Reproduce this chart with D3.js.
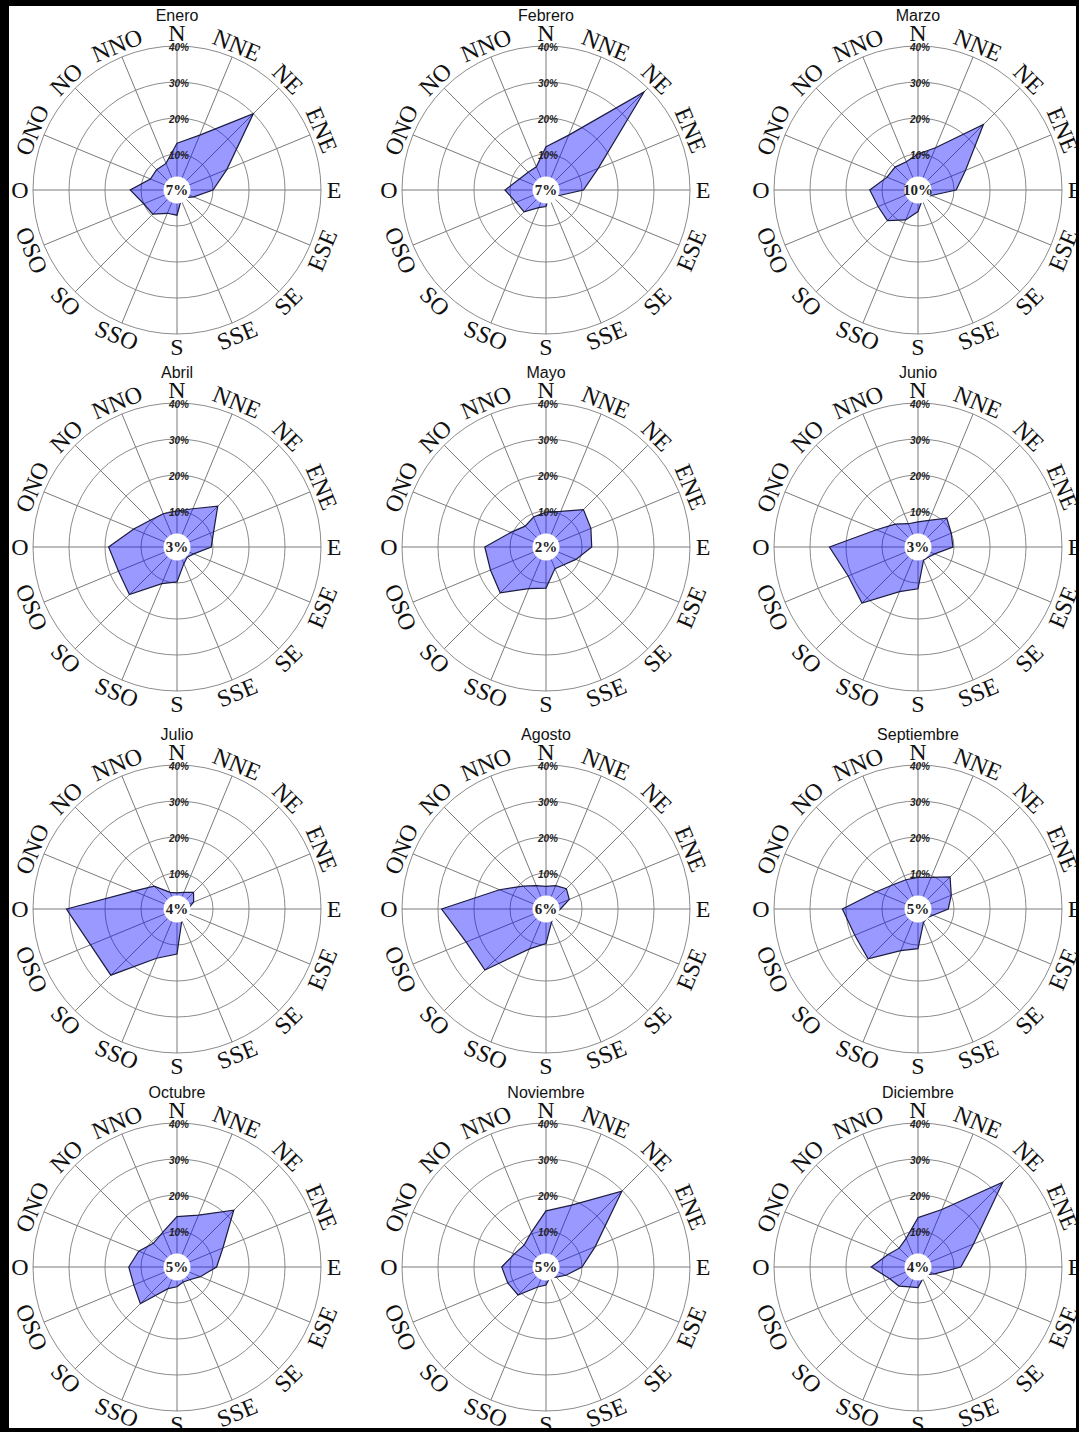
<!DOCTYPE html>
<html>
<head>
<meta charset="utf-8">
<script src="https://cdn.jsdelivr.net/npm/d3@7"></script>
<style>
  html, body { margin: 0; padding: 0; background: #fff; }
  svg { display: block; }
</style>
</head>
<body>
<svg id="chart" width="1079" height="1432"></svg>
<script>
// ---- data ----
const months = ["Enero","Febrero","Marzo","Abril","Mayo","Junio","Julio","Agosto","Septiembre","Octubre","Noviembre","Diciembre"];
const directions = ["N","NNE","NE","ENE","E","ESE","SE","SSE","S","SSO","SO","OSO","O","ONO","NO","NNO"];
const calms = [7, 7, 10, 3, 2, 3, 4, 6, 5, 5, 5, 4];
const ringTicks = [10, 20, 30, 40];

const enero      = [13, 16.5, 30, 15, 10, 5, 3, 3, 7, 7, 9.5, 10, 13, 8, 8, 8];
const febrero    = [12, 16.5, 38.5, 15.7, 10.4, 4, 2, 2, 4.6, 5.3, 8.6, 9, 11.4, 8, 7, 7];
const marzo      = [10, 12.7, 25.7, 14.3, 10.6, 4, 3, 3, 6, 9, 12, 12, 13.4, 9.3, 9, 8.5];
const abril      = [10, 11.5, 16, 11, 9.5, 5, 4, 5, 9.7, 11, 18.7, 17.6, 19, 13, 10.5, 10];
const mayo       = [9.7, 10.7, 14.7, 13.5, 12.7, 9, 7, 6.5, 11.4, 12.5, 18, 16.7, 17, 10.6, 8.2, 9];
const junio      = [7, 8, 11.3, 10, 9.7, 5, 4, 4, 11.6, 13.4, 22, 21, 24.6, 12.5, 9, 7];
const julio      = [4.5, 5, 6.5, 5, 3, 3, 2.5, 3.5, 12.5, 14.8, 26, 26, 30.7, 13, 9, 5];
const agosto     = [6.3, 7, 8, 7, 4, 3, 3, 4, 9.6, 12, 24, 24, 29, 14, 9, 7];
const septiembre = [8.8, 9.5, 12.6, 10, 8.4, 4.5, 3.5, 4, 11, 12.5, 19.6, 19, 21, 12.5, 9.6, 8.8];
const octubre    = [14, 15.6, 22.3, 13.8, 11, 7, 5, 4.5, 5.5, 6.5, 14.4, 13, 13.4, 11.5, 9.3, 10.4];
const noviembre  = [15.6, 18.6, 29.8, 14.8, 10, 6, 4, 3, 5, 6, 11, 11.5, 12.3, 9.5, 8.6, 10.5];
const diciembre  = [13.7, 17.3, 33.3, 16.7, 11.9, 5, 3, 3.5, 5.7, 6, 7.5, 8.5, 13, 9, 7.4, 8.6];

const series = [enero, febrero, marzo, abril, mayo, junio, julio, agosto, septiembre, octubre, noviembre, diciembre];

// ---- layout ----
const W = 1079, H = 1432;
const colX = [177, 546, 918];
const rowY = [190, 547, 909, 1267];
const R = 144;

const svg = d3.select("#chart");
svg.append("rect").attr("width", W).attr("height", H).attr("fill", "#fff");

const r = d3.scaleLinear().domain([0, 40]).range([0, R]);
const angle = d3.scaleLinear().domain([0, directions.length]).range([0, 2 * Math.PI]);

months.forEach((m, k) => {
  const cx = colX[k % 3], cy = rowY[Math.floor(k / 3)];
  const g = svg.append("g").attr("transform", `translate(${cx},${cy})`);
  const vals = series[k];

  const line = d3.lineRadial()
    .angle((d, i) => angle(i))
    .radius(d => r(d))
    .curve(d3.curveLinearClosed);

  // grid rings
  g.selectAll("circle.ring").data(ringTicks).join("circle")
    .attr("class", "ring")
    .attr("r", d => r(d))
    .attr("fill", "none")
    .attr("stroke", "#8c8c8c")
    .attr("stroke-width", 1);

  // spokes
  g.selectAll("line.spoke").data(directions).join("line")
    .attr("class", "spoke")
    .attr("x1", 0).attr("y1", 0)
    .attr("x2", (d, i) => Math.sin(angle(i)) * r(40))
    .attr("y2", (d, i) => -Math.cos(angle(i)) * r(40))
    .attr("stroke", "#7a7a7a")
    .attr("stroke-width", 1);

  // frequency polygon (translucent so the grid shows through)
  g.append("path")
    .datum(vals)
    .attr("d", line)
    .attr("fill", "#0000ff")
    .attr("fill-opacity", 0.4)
    .attr("stroke", "#1c1c40")
    .attr("stroke-width", 1.2)
    .attr("stroke-linejoin", "miter");

  // calm circle
  g.append("circle").attr("r", 13.5).attr("fill", "#fff");
  g.append("text")
    .attr("x", 0).attr("y", 0).attr("dy", "0.35em")
    .attr("text-anchor", "middle")
    .attr("font-family", "Liberation Serif, Times New Roman, serif")
    .attr("font-weight", "bold")
    .attr("font-size", 15)
    .attr("fill", "#222")
    .text(calms[k] + "%");

  // ring labels
  g.selectAll("text.tick").data(ringTicks).join("text")
    .attr("class", "tick")
    .attr("x", 2)
    .attr("y", d => -r(d))
    .attr("dy", "0.45em")
    .attr("text-anchor", "middle")
    .attr("font-family", "Liberation Sans, Arial, sans-serif")
    .attr("font-weight", "bold")
    .attr("font-style", "italic")
    .attr("font-size", 10)
    .attr("fill", "#222")
    .text(d => d + "%");

  // direction labels
  const LR = 157;
  g.selectAll("text.dir").data(directions).join("text")
    .attr("class", "dir")
    .attr("text-anchor", "middle")
    .attr("dy", "0.35em")
    .attr("font-family", "Liberation Serif, Times New Roman, serif")
    .attr("font-size", 24)
    .attr("fill", "#111")
    .attr("transform", (d, i) => {
      const a = angle(i) * 180 / Math.PI;
      const x = Math.sin(angle(i)) * LR, y = -Math.cos(angle(i)) * LR;
      let rot;
      if (a === 90 || a === 270) rot = 0;
      else if (a > 90 && a < 270) rot = a - 180;
      else rot = a > 270 ? a - 360 : a;
      return `translate(${x},${y}) rotate(${rot})`;
    })
    .text(d => d);

  // title
  g.append("text")
    .attr("x", 0).attr("y", -169)
    .attr("text-anchor", "middle")
    .attr("font-family", "Liberation Sans, Arial, sans-serif")
    .attr("font-size", 16)
    .attr("fill", "#111")
    .text(m);
});

// frame
svg.append("rect").attr("x", 0).attr("y", 0).attr("width", W).attr("height", 6).attr("fill", "#000");
svg.append("rect").attr("x", 0).attr("y", 0).attr("width", 9).attr("height", H).attr("fill", "#000");
svg.append("rect").attr("x", W - 3).attr("y", 0).attr("width", 3).attr("height", H).attr("fill", "#000");
svg.append("rect").attr("x", 0).attr("y", H - 4).attr("width", W).attr("height", 4).attr("fill", "#000");
</script>
</body>
</html>
